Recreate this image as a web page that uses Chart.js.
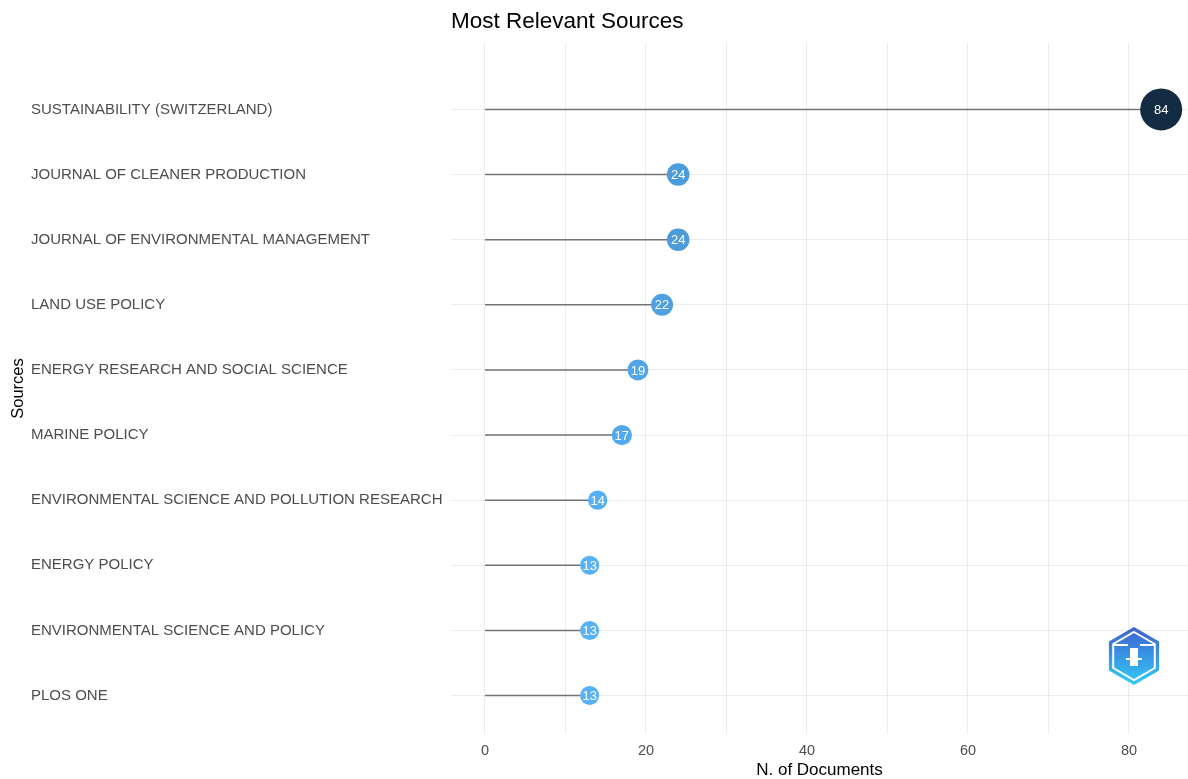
<!DOCTYPE html>
<html>
<head>
<meta charset="utf-8">
<script src="https://cdn.jsdelivr.net/npm/chart.js@4.4.1/dist/chart.umd.min.js"></script>
<style>
  html, body { margin: 0; padding: 0; background: #fff; overflow: hidden; }
  #wrap { width: 1188px; height: 779px; }
</style>
</head>
<body>
<div id="wrap"><canvas id="sourcesChart"></canvas></div>
<script>
// data
const sources = [
    'SUSTAINABILITY (SWITZERLAND)',
    'JOURNAL OF CLEANER PRODUCTION',
    'JOURNAL OF ENVIRONMENTAL MANAGEMENT',
    'LAND USE POLICY',
    'ENERGY RESEARCH AND SOCIAL SCIENCE',
    'MARINE POLICY',
    'ENVIRONMENTAL SCIENCE AND POLLUTION RESEARCH',
    'ENERGY POLICY',
    'ENVIRONMENTAL SCIENCE AND POLICY',
    'PLOS ONE'
];
const documents = [84, 24, 24, 22, 19, 17, 14, 13, 13, 13];
const xTicks = [0, 20, 40, 60, 80];

const FONT = '"Liberation Sans", Arial, sans-serif';

// ggplot-like continuous colour / size scale
const vMin = Math.min(...documents), vMax = Math.max(...documents);
function colourFor(v) {
    const t = (v - vMin) / (vMax - vMin);
    const lo = [86, 177, 247], hi = [19, 43, 67];
    const c = lo.map((l, i) => Math.round(l + (hi[i] - l) * t));
    return 'rgb(' + c.join(',') + ')';
}
function radiusFor(v) {
    return 9.5 + (v - vMin) * 0.162;
}

document.addEventListener("DOMContentLoaded", function () {
    const ctx = document.getElementById('sourcesChart').getContext('2d');

    // one stem per source, from 0 to its value
    const stems = sources.map(function (s, i) {
        return {
            type: 'line',
            data: [{ x: 0, y: i }, { x: documents[i], y: i }],
            borderColor: '#737373',
            borderWidth: 1.4,
            pointRadius: 0,
            pointHoverRadius: 0,
            order: 2
        };
    });

    const dots = {
        type: 'scatter',
        data: documents.map((v, i) => ({ x: v, y: i })),
        pointRadius: documents.map(radiusFor),
        pointHoverRadius: documents.map(radiusFor),
        pointBackgroundColor: documents.map(colourFor),
        pointBorderWidth: 0,
        clip: false,
        order: 1
    };

    const pointLabels = {
        id: 'pointLabels',
        afterDatasetsDraw(chart) {
            const meta = chart.getDatasetMeta(chart.data.datasets.length - 1);
            const c = chart.ctx;
            c.save();
            c.fillStyle = '#ffffff';
            c.font = '13px ' + FONT;
            c.textAlign = 'center';
            c.textBaseline = 'middle';
            meta.data.forEach(function (pt, i) {
                c.fillText(String(documents[i]), pt.x, pt.y + 1);
            });
            c.restore();
        }
    };

    const extras = {
        id: 'extras',
        afterDraw(chart) {
            const c = chart.ctx;
            const area = chart.chartArea;
            c.save();
            // y axis title
            c.translate(18, (area.top + area.bottom) / 2);
            c.rotate(-Math.PI / 2);
            c.fillStyle = '#000';
            c.font = '16.5px ' + FONT;
            c.textAlign = 'center';
            c.textBaseline = 'middle';
            c.fillText('Sources', 0, 0);
            c.restore();

            // small hexagon logo in the corner
            const cx = 1134, cy = 656, r = 29;
            const hex = function (rad) {
                c.beginPath();
                for (let k = 0; k < 6; k++) {
                    const a = Math.PI / 180 * (60 * k - 90);
                    const px = cx + rad * Math.cos(a), py = cy + rad * Math.sin(a);
                    if (k === 0) c.moveTo(px, py); else c.lineTo(px, py);
                }
                c.closePath();
            };
            c.save();
            const g = c.createLinearGradient(0, cy - r, 0, cy + r);
            g.addColorStop(0, '#3f5fd0');
            g.addColorStop(1, '#33cdf6');
            hex(r);
            c.fillStyle = g;
            c.fill();
            hex(r - 5);
            c.strokeStyle = '#ffffff';
            c.lineWidth = 2;
            c.stroke();
            c.fillStyle = '#ffffff';
            c.fillRect(cx - 20, cy - 12, 14, 2);
            c.fillRect(cx + 6, cy - 12, 14, 2);
            c.fillRect(cx - 4, cy - 8, 8, 18);
            c.fillRect(cx - 8, cy + 2, 16, 2);
            c.restore();
        }
    };

    new Chart(ctx, {
        type: 'scatter',
        data: { datasets: stems.concat([dots]) },
        options: {
            responsive: true,
            maintainAspectRatio: false,
            animation: false,
            layout: { autoPadding: false, padding: { left: 31, right: 0, top: 0, bottom: 0 } },
            plugins: {
                legend: { display: false },
                tooltip: { enabled: false },
                title: {
                    display: true,
                    text: 'Most Relevant Sources',
                    align: 'start',
                    fullSize: false,
                    color: '#000',
                    font: { family: FONT, size: 22.5, weight: 'normal' },
                    padding: { top: 8, bottom: 8 }
                }
            },
            scales: {
                x: {
                    type: 'linear',
                    min: -4.22,
                    max: 87.33,
                    afterBuildTicks: function (scale) {
                        const t = [];
                        for (let v = 0; v <= 80; v += 10) t.push({ value: v });
                        scale.ticks = t;
                    },
                    afterFit: function (scale) {
                        scale.height = 45;
                        scale.paddingLeft = 0;
                        scale.paddingRight = 0;
                    },
                    border: { display: false },
                    grid: { color: '#ebebeb', lineWidth: 1, drawTicks: false },
                    ticks: {
                        padding: 8,
                        color: '#4d4d4d',
                        font: { family: FONT, size: 14.5 },
                        autoSkip: false,
                        maxRotation: 0,
                        callback: function (v) { return xTicks.includes(v) ? String(v) : ''; }
                    },
                    title: {
                        display: true,
                        text: 'N. of Documents',
                        color: '#000',
                        font: { family: FONT, size: 17 },
                        padding: { top: 0, bottom: -2 }
                    }
                },
                y: {
                    type: 'linear',
                    reverse: true,
                    min: -1.02,
                    max: 9.59,
                    afterBuildTicks: function (scale) {
                        scale.ticks = sources.map((s, i) => ({ value: i }));
                    },
                    afterFit: function (scale) {
                        scale.width = 451 - 31;
                        scale.paddingTop = 0;
                        scale.paddingBottom = 0;
                    },
                    border: { display: false },
                    grid: { color: '#ebebeb', lineWidth: 1, drawTicks: false },
                    ticks: {
                        crossAlign: 'far',
                        padding: 0,
                        autoSkip: false,
                        color: '#4d4d4d',
                        font: { family: FONT, size: 15 },
                        callback: function (v) { return sources[v] !== undefined ? sources[v] : ''; }
                    }
                }
            }
        },
        plugins: [pointLabels, extras]
    });
});
</script>
</body>
</html>
